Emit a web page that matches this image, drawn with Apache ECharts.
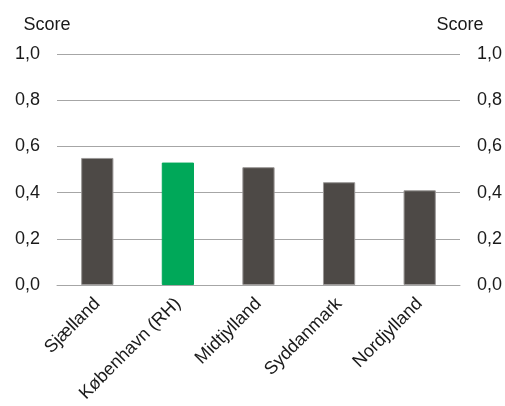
<!DOCTYPE html>
<html><head><meta charset="utf-8">
<script src="https://cdn.jsdelivr.net/npm/echarts@6/dist/echarts.min.js"></script>
<style>html,body{margin:0;padding:0;background:#fff}#c{width:505px;height:406px}</style>
</head><body><div id="c"></div>
<script>
const categories = ['Sjælland', 'København (RH)', 'Midtjylland', 'Syddanmark', 'Nordjylland'];
const scores = [0.55, 0.53, 0.51, 0.445, 0.41];
const highlight = 'København (RH)';
const axisName = 'Score';

const fmt = v => v.toFixed(1).replace('.', ',');
const font = 'Liberation Sans, Arial, sans-serif';
const chart = echarts.init(document.getElementById('c'));
const yAxisBase = {
  type: 'value', min: 0, max: 1, interval: 0.2, name: axisName,
  nameLocation: 'end', nameGap: 20,
  axisLine: {show: false}, axisTick: {show: false},
  splitLine: {lineStyle: {color: '#a6a6a6', width: 1}},
  axisLabel: {formatter: fmt, color: '#1a1a1a', fontSize: 18, fontFamily: font, margin: 17},
};
chart.setOption({
  animation: false,
  grid: {left: 57, right: 44, top: 54, bottom: 121},
  xAxis: {
    type: 'category', data: categories,
    axisLine: {lineStyle: {color: '#a6a6a6'}}, axisTick: {show: false},
    axisLabel: {rotate: 45, color: '#1a1a1a', fontSize: 18, fontFamily: font, margin: 16, interval: 0}
  },
  yAxis: [
    Object.assign({}, yAxisBase, {position: 'left',
      nameTextStyle: {color: '#1a1a1a', fontSize: 18, fontFamily: font, padding: [0, 20, 0, 0]}}),
    Object.assign({}, yAxisBase, {position: 'right',
      nameTextStyle: {color: '#1a1a1a', fontSize: 18, fontFamily: font}})
  ],
  series: [{
    type: 'bar', barWidth: '40%',
    data: categories.map((c, i) => ({
      value: scores[i],
      itemStyle: {color: c === highlight ? '#00a859' : '#4d4946',
        borderColor: c === highlight ? '#00a859' : '#9a9796', borderWidth: 1}
    }))
  }]
});
</script></body></html>
